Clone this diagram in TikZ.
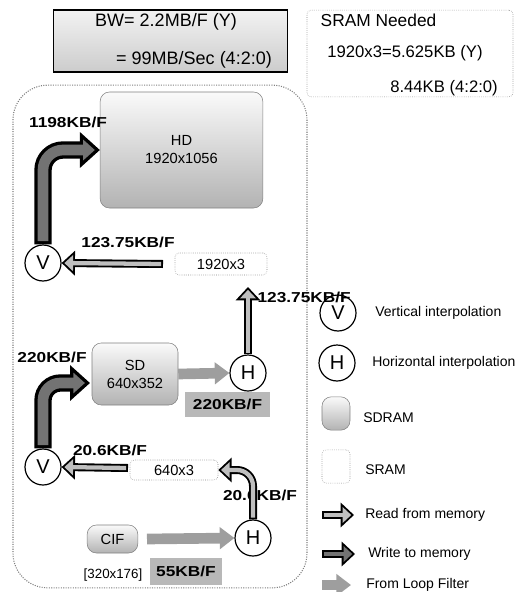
\documentclass[tikz,border=0pt]{standalone}
\usepackage{fontspec}
\setmainfont{Liberation Sans}
\newfontfamily\ratefont[FakeStretch=1.2]{Liberation Sans}
\usetikzlibrary{arrows.meta,shapes}

\begin{document}
\begin{tikzpicture}[x=0.75pt,y=-0.75pt]
	\definecolor{color1}{gray}{0.70} %% SDRAM bottom
	\definecolor{color2}{gray}{0.98} %% SDRAM top
	\definecolor{color3}{gray}{0.50} %% dotted borders
	\definecolor{color4}{gray}{0.75} %% read fill
	\definecolor{color5}{gray}{0.45} %% write fill
	\definecolor{color6}{gray}{0.62} %% loop filter arrow
	\definecolor{color7}{gray}{0.72} %% rate background
	\tikzset{
		frame/.style={draw=color3, densely dotted, line width=0.8pt, rounded corners=26pt},
		sdram/.style={draw=color3, rounded corners=7pt, top color=color2, bottom color=color1, align=center, inner sep=0pt, font=\fontsize{11}{13.5}\selectfont},
		sram/.style={draw=color3, densely dotted, rounded corners=3pt, fill=white, inner sep=0pt, font=\fontsize{11}{12}\selectfont},
		interp/.style={circle, draw, line width=0.9pt, fill=white, minimum size=27pt, inner sep=0pt, font=\fontsize{15}{15}\selectfont},
		rate/.style={inner sep=1pt, font=\ratefont\bfseries\fontsize{10.8}{12}\selectfont},
		legend/.style={anchor=west, inner sep=0pt, font=\fontsize{10.5}{12}\selectfont},
		readflow/.style={line width=3.2pt, draw=color4, -{Triangle[length=6.5pt,width=11.7pt]}, shorten >=2.1pt, shorten <=1.4pt,
			preaction={draw=black, line width=6pt, -{Triangle[length=10pt,width=18pt]}, shorten >=0pt, shorten <=0pt}},
		writeflow/.style={line width=8pt, draw=color5, -{Triangle[length=8.7pt,width=15pt]}, shorten >=3.8pt, shorten <=2.5pt,
			preaction={draw=black, line width=13pt, -{Triangle[length=15pt,width=26pt]}, shorten >=0pt, shorten <=0pt}},
		loopflow/.style={line width=8pt, draw=color6, -{Triangle[length=11pt,width=16pt]}}
	}
	\useasboundingbox (0,0) rectangle (527,592);
	%% Header boxes ------
	\node[draw, line width=0.9pt, top color=gray!10, bottom color=gray!40, minimum width=176pt, minimum height=46.5pt] (bw) at (170.5,41) {};
	\node[font=\fontsize{13.5}{14}\selectfont] (bwy) at (166,22) {BW= 2.2MB/F (Y)};
	\node[font=\fontsize{13.5}{14}\selectfont] (bwc) at (194,60) {= 99MB/Sec (4:2:0)};
	\node[sram, minimum width=154.5pt, minimum height=65pt] (need) at (410,53.5) {};
	\node[anchor=west, font=\fontsize{13}{14}\selectfont] (needt) at (316,20) {SRAM Needed};
	\node[font=\fontsize{12.5}{14}\selectfont] (needy) at (405,53) {1920x3=5.625KB (Y)};
	\node[font=\fontsize{12.5}{14}\selectfont] (needc) at (444,88) {8.44KB (4:2:0)};
	%% Frame and memories ------
	\node[frame, minimum width=220.5pt, minimum height=377pt] (frame) at (160,336.5) {};
	\node[sdram, minimum width=122pt, minimum height=87pt] (hd) at (181.5,150) {HD\\1920x1056};
	\node[sdram, minimum width=64.5pt, minimum height=46.5pt] (sd) at (135,374) {SD\\640x352};
	\node[sdram, minimum width=38pt, minimum height=21pt] (cif) at (112.5,539) {CIF};
	\node[sram, minimum width=69pt, minimum height=16.5pt] (s1) at (221,264) {1920x3};
	\node[sram, minimum width=66pt, minimum height=15pt] (s2) at (174,470) {640x3};
	%% Interpolators ------
	\node[interp] (v1) at (43,263) {V};
	\node[interp] (v2) at (43,467) {V};
	\node[interp] (h1) at (248,373) {H};
	\node[interp] (h2) at (253,538) {H};
	\coordinate (s1w) at (163,264);
	\coordinate (s2w) at (128,468);
	\coordinate (uptip) at (248,287);
	\coordinate (sdin) at (90,383);
	\coordinate (cifout) at (147,539);
	\node[rate] (r206b) at (260,495) {20.6KB/F};
	%% Flows ---------
	\draw[writeflow, rounded corners=15pt] (v1.north) |- (hd.west);
	\draw[readflow] (s1w) -- (v1.east);
	\draw[readflow] (h1.north) -- (uptip);
	\draw[writeflow, rounded corners=13pt] (v2.north) |- (sdin);
	\draw[loopflow] (sd.east) -- (h1.west);
	\draw[readflow] (s2w) -- (v2.east);
	\draw[readflow, rounded corners=12pt] (h2.north) |- (s2.east);
	\draw[loopflow] (cifout) -- (h2.west);
	%% Rates ---------
	\node[rate] (r1198) at (68,122) {1198KB/F};
	\node[rate] (r123a) at (128,242) {123.75KB/F};
	\node[rate] (r220a) at (52,357) {220KB/F};
	\node[rate, fill=color7, minimum width=64pt, minimum height=19pt] (r220b) at (227.5,404.5) {220KB/F};
	\node[rate] (r206a) at (110,450) {20.6KB/F};
	\node[font=\fontsize{10}{12}\selectfont] (cifsize) at (113,575) {[320x176]};
	\node[rate, fill=color7, minimum width=54pt, minimum height=20pt] (r55) at (186,571.5) {55KB/F};
	%% Legend ---------
	\node[interp] (lv) at (338,313) {V};
	\node[legend] (lvt) at (375,313) {Vertical interpolation};
	\node[interp] (lh) at (337,363) {H};
	\node[legend] (lht) at (372,363) {Horizontal interpolation};
	\node[sdram, minimum width=21pt, minimum height=25pt] (lsd) at (336,413.5) {};
	\node[legend] (lsdt) at (363,418) {SDRAM};
	\node[sram, minimum width=21pt, minimum height=25pt] (lsr) at (336,466.5) {};
	\node[legend] (lsrt) at (365,470) {SRAM};
	\coordinate (lr1) at (322,515);
	\coordinate (lr2) at (354,515);
	\coordinate (lw1) at (322,554);
	\coordinate (lw2) at (355,554);
	\coordinate (ll1) at (322,585);
	\coordinate (ll2) at (351,585);
	\draw[readflow] (lr1) -- (lr2);
	\draw[readflow, draw=color5] (lw1) -- (lw2);
	\draw[loopflow] (ll1) -- (ll2);
	\node[legend] (lrt) at (365,515) {Read from memory};
	\node[legend] (lwt) at (368,554) {Write to memory};
	\node[legend] (llt) at (366,585) {From Loop Filter};
	\node[rate, anchor=west] (r123b) at (256,297) {123.75KB/F};
\end{tikzpicture}
\end{document}
